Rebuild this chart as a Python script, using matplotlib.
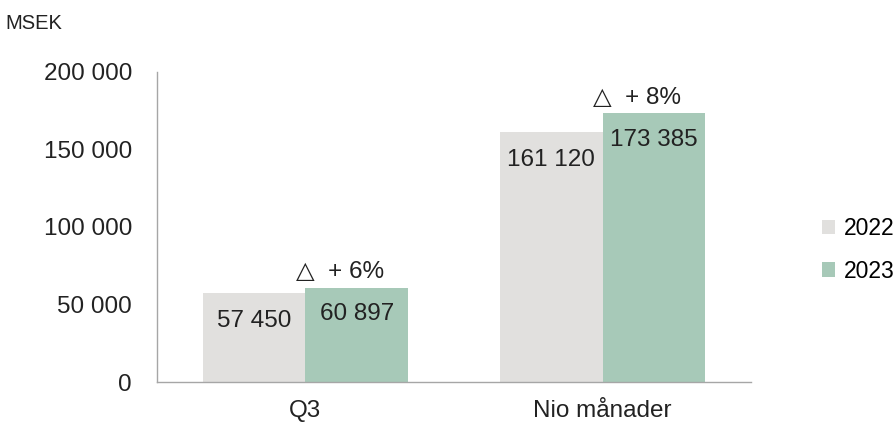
import numpy as np
import matplotlib.pyplot as plt

plt.rcParams['font.family'] = ['Liberation Sans', 'DejaVu Sans']

categories = ['Q3', 'Nio månader']
years = ['2022', '2023']
values_2022 = [57450, 161120]
values_2023 = [60897, 173385]
changes = ['+ 6%', '+ 8%']
yticks = [0, 50000, 100000, 150000, 200000]

def fmt(v):
    return f"{v:,.0f}".replace(',', ' ')

fig = plt.figure(figsize=(8.96, 4.23), dpi=100)
ax = fig.add_axes([0.1752, 0.0969, 0.663, 0.733])

x = np.arange(len(categories))
w = 0.345
c22 = '#E1E0DE'
c23 = '#A7C9B8'
txt = '#222222'
fs = 17.5
b1 = ax.bar(x - w/2, values_2022, w, color=c22, label=years[0])
b2 = ax.bar(x + w/2, values_2023, w, color=c23, label=years[1])

for rect, v in zip(b1, values_2022):
    ax.annotate(fmt(v), (rect.get_x() + rect.get_width()/2, v), xytext=(0, -20),
                textcoords='offset points', ha='center', va='center', fontsize=fs, color=txt)
for rect, v in zip(b2, values_2023):
    ax.annotate(fmt(v), (rect.get_x() + rect.get_width()/2, v), xytext=(0, -19),
                textcoords='offset points', ha='center', va='center', fontsize=fs, color=txt)
for xi, v, ch in zip(x, values_2023, changes):
    ax.annotate('△  ' + ch, (xi + 0.115, v), xytext=(0, 11),
                textcoords='offset points', ha='center', va='center', fontsize=fs, color=txt)

ax.set_xlim(-0.5, 1.5)
ax.set_ylim(0, 200000)
ax.set_yticks(yticks)
ax.set_yticklabels([fmt(t) for t in yticks])
ax.set_xticks(x)
ax.set_xticklabels(categories)
ax.tick_params(axis='both', length=0, labelsize=fs, colors=txt)
ax.tick_params(axis='y', pad=18)
ax.tick_params(axis='x', pad=13)
for s in ['top', 'right']:
    ax.spines[s].set_visible(False)
for s in ['left', 'bottom']:
    ax.spines[s].set_color('#A6A6A6')
    ax.spines[s].set_linewidth(1)

fig.text(0.0056, 0.931, 'MSEK', fontsize=14.5, color=txt, va='baseline')
fig.legend(loc='center left', bbox_to_anchor=(0.917, 0.409), frameon=False, fontsize=16.5,
           handlelength=0.6, handleheight=0.6, handletextpad=0.35, labelspacing=0.85,
           borderaxespad=0, borderpad=0)

fig.savefig('out.png', dpi=100)
